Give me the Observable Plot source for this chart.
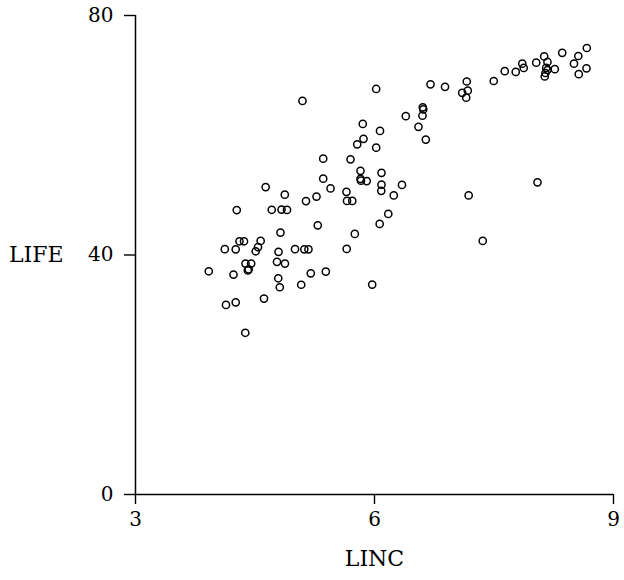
<!DOCTYPE html>
<html><head><meta charset="utf-8">
<script src="https://cdn.jsdelivr.net/npm/d3@7"></script>
<script src="https://cdn.jsdelivr.net/npm/@observablehq/plot@0.6"></script>
<style>html,body{margin:0;padding:0;background:#fff}</style>
</head><body><div id="chart"></div>
<script>
const linc = [3.92,4.121,4.136,4.230,4.258,4.258,4.271,4.305,4.362,4.381,
4.452,4.410,4.421,4.378,4.509,4.538,4.571,4.613,4.634,4.710,
4.776,4.792,4.811,4.795,4.820,4.833,4.902,4.876,4.874,5.002,
5.080,5.096,5.119,5.171,5.140,5.200,5.272,5.288,5.356,5.356,
5.389,5.448,5.648,5.655,5.721,5.651,5.699,5.753,5.783,5.824,
5.824,5.830,5.902,5.853,5.862,5.971,6.021,6.021,6.069,6.065,
6.088,6.088,6.085,6.173,6.242,6.345,6.393,6.552,6.606,6.612,
6.602,6.644,6.703,6.885,7.101,7.158,7.171,7.151,7.182,7.359,
7.497,7.635,7.773,7.855,7.873,8.030,8.046,8.130,8.171,8.155,
8.171,8.146,8.137,8.263,8.356,8.504,8.558,8.564,8.665,8.661];
const life = [37.28,40.98,31.67,36.73,40.95,32.09,47.50,42.29,42.29,38.56,
38.56,37.43,37.60,27.01,40.62,41.32,42.35,32.72,51.34,47.55,
38.86,36.11,34.61,40.53,43.74,47.58,47.53,38.56,50.08,40.98,
35.03,65.73,40.95,40.95,49.00,36.94,49.75,44.96,56.09,52.75,
37.23,51.12,50.55,49.03,49.03,41.02,55.98,43.52,58.48,54.06,
52.72,52.42,52.34,61.89,59.40,35.06,67.73,57.93,60.72,45.19,
53.72,51.75,50.72,46.86,49.95,51.70,63.19,61.40,64.66,64.32,
63.27,59.27,68.50,68.08,67.08,68.98,67.45,66.28,49.95,42.35,
69.06,70.70,70.58,71.95,71.25,72.12,52.14,73.17,72.24,71.24,
70.90,70.40,69.82,71.04,73.76,71.95,73.24,70.20,74.57,71.17];
const xTicks = [3, 6, 9];
const yTicks = [0, 40, 80];
const data = linc.map((x, i) => ({linc: x, life: life[i]}));

const chart = Plot.plot({
  width: 624, height: 580,
  marginLeft: 135, marginRight: 11, marginTop: 15, marginBottom: 86,
  style: {fontFamily: "DejaVu Serif", fontSize: "20px", background: "white", color: "black", overflow: "visible"},
  x: {domain: [3, 9]},
  y: {domain: [0, 80]},
  marks: [
    Plot.axisX({ticks: xTicks, tickSize: 10, tickPadding: 7, label: null, strokeWidth: 1.4, tickFormat: d => String(d)}),
    Plot.axisY({ticks: yTicks, tickSize: 11, tickPadding: 11, label: null, strokeWidth: 1.4, tickFormat: d => String(d)}),
    Plot.ruleX([3], {strokeWidth: 1.5}),
    Plot.ruleY([0], {strokeWidth: 1.5}),
    Plot.dot(data, {x: "linc", y: "life", r: 3.6, stroke: "black", strokeWidth: 1.5}),
    Plot.text(["LIFE"], {frameAnchor: "left", dx: -72, textAnchor: "end", fontSize: 22}),
    Plot.text(["LINC"], {frameAnchor: "bottom", dy: 71, fontSize: 22})
  ]
});
document.getElementById("chart").appendChild(chart);
</script>
</body></html>
